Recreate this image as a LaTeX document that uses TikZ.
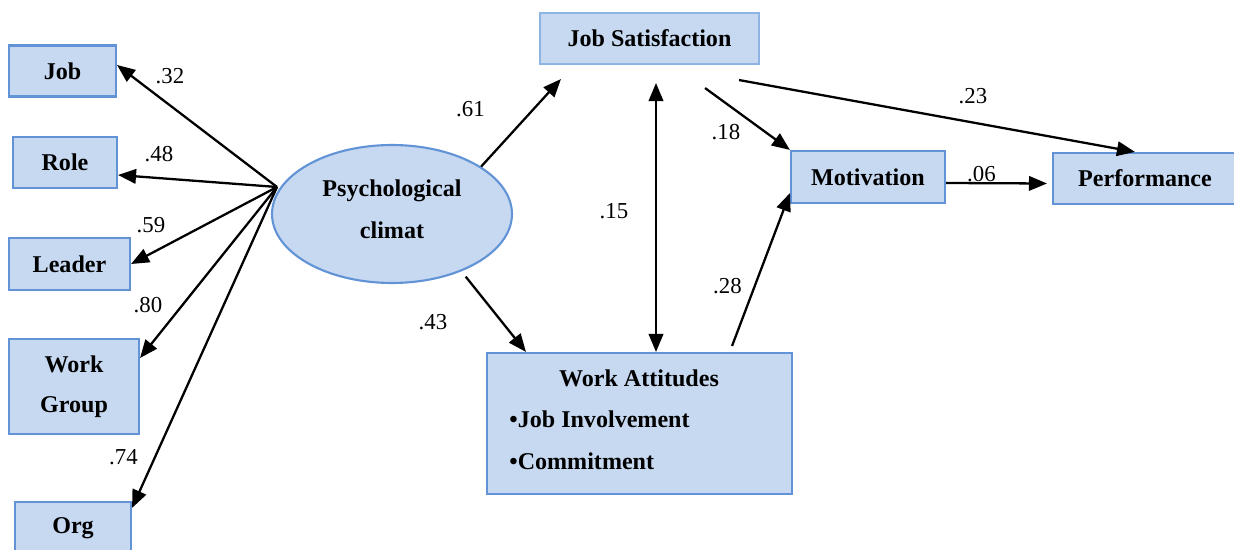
\documentclass[tikz,border=0pt]{standalone}
\usepackage{fontspec}
\setmainfont{Liberation Serif}
\usetikzlibrary{arrows.meta,calc,shapes.geometric}
\definecolor{boxfill}{RGB}{198,217,241}
\definecolor{boxdraw}{RGB}{98,147,214}
\definecolor{boxlight}{RGB}{142,180,227}
\tikzset{
  box/.style={draw=boxdraw,fill=boxfill,line width=1.2pt,inner sep=0pt,align=center,
    font=\fontsize{13.7}{22.8}\selectfont\bfseries},
  wt/.style={font=\fontsize{13.7}{22.8}\selectfont\bfseries,inner sep=0pt},
  coef/.style={font=\fontsize{13}{14}\selectfont,inner sep=0pt},
  arr/.style={line width=1.3pt,-{Triangle[length=0.36cm,width=0.29cm]}},
  darr/.style={line width=1.3pt,{Triangle[length=0.36cm,width=0.29cm]}-{Triangle[length=0.36cm,width=0.29cm]}}
}
\begin{document}
\begin{tikzpicture}[x=0.02cm,y=-0.02cm]
\useasboundingbox (0,0) rectangle (1234,550);
% boxes
\node[box,minimum width=2.14cm,minimum height=1.02cm] (job) at (62.5,71) {Job};
\node[box,minimum width=2.08cm,minimum height=1.02cm] (role) at (65,162.5) {Role};
\node[box,minimum width=2.42cm,minimum height=1.04cm] (leader) at (69.5,264) {Leader};
\node[box,minimum width=2.6cm,minimum height=1.9cm] (wg) at (74,386.5) {Work\\[-0.1pt]Group};
\node[box,minimum width=2.32cm,minimum height=1.04cm] (org) at (73,528) {Org};
\node[box,ellipse,minimum width=4.8cm,minimum height=2.76cm,align=none,font=\fontsize{13.7}{23.9}\selectfont\bfseries] (pc) at (392,214) {\begin{tabular}[b]{@{}c@{}}Psychological\\climat\end{tabular}\rule[-0.45cm]{0pt}{0.45cm}};
\node[box,draw=boxlight,minimum width=4.38cm,minimum height=1.02cm] (js) at (649.5,38.5) {Job Satisfaction};
\node[box,minimum width=3.08cm,minimum height=1.04cm] (mot) at (868,177) {Motivation};
\node[box,minimum width=3.68cm,minimum height=1.02cm] (perf) at (1145,178.5) {Performance};
\node[box,minimum width=6.1cm,minimum height=2.82cm] (wa) at (639.5,423.5) {};
\node[wt,anchor=base] (wat) at (639,387) {Work Attitudes};
\node[wt,anchor=base west] (wa1) at (509,428) {•Job Involvement};
\node[wt,anchor=base west] (wa2) at (509,469) {•Commitment};
% hub
\coordinate (hub) at (277,187);
\draw[arr] (hub) -- ([yshift=0.12cm]job.east);
\draw[arr] (hub) -- ([yshift=-0.25cm]role.east);
\draw[arr] (hub) -- (leader.east);
\draw[arr] (hub) -- ([yshift=0.57cm]wg.east);
\draw[arr] (hub) -- ([yshift=-0.14cm]org.north east);
% middle
\draw[arr] (pc.28) -- ([xshift=0.44cm,yshift=-0.28cm]js.south west);
\draw[arr] ([shift={(0.1cm,-0.1cm)}]pc.-40) -- ([xshift=0.8cm]wa.north west);
\coordinate (stop) at ([xshift=0.13cm,yshift=-0.36cm]js.south);
\draw[darr] (stop) -- (stop |- wa.north);
\draw[arr] ([xshift=-1.1cm,yshift=-0.46cm]js.south east) -- (mot.north west);
\draw[arr] ([xshift=-0.42cm,yshift=-0.3cm]js.south east) -- ([xshift=1.66cm]perf.north west);
\draw[arr] ([xshift=-1.22cm,yshift=0.12cm]wa.north east) -- ([yshift=0.22cm]mot.south west);
\draw[arr] ([yshift=-0.12cm]mot.east) -- ([xshift=-0.1cm,yshift=-0.1cm]perf.west);
% coefficients
\node[coef] (c32) at (170,76) {.32};
\node[coef] (c48) at (159,154.5) {.48};
\node[coef] (c59) at (151,225.5) {.59};
\node[coef] (c80) at (148,305) {.80};
\node[coef] (c74) at (123.5,457.5) {.74};
\node[coef] (c61) at (470.5,109.5) {.61};
\node[coef] (c43) at (433,322) {.43};
\node[coef] (c15) at (614,211.5) {.15};
\node[coef] (c18) at (726,132) {.18};
\node[coef] (c28) at (727.5,286) {.28};
\node[coef] (c23) at (973,96) {.23};
\node[coef] (c06) at (981.5,174.5) {.06};
\end{tikzpicture}
\end{document}
